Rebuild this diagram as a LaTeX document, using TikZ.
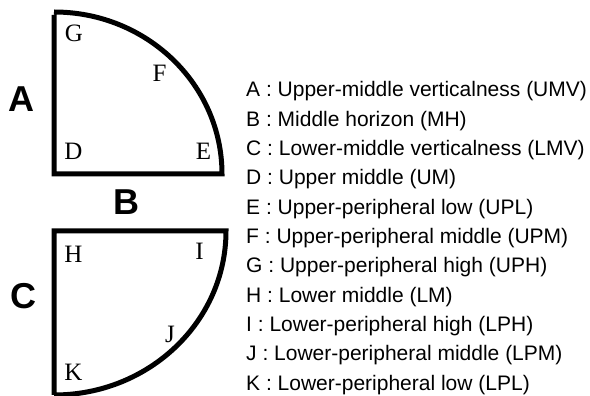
\documentclass[tikz,border=0pt]{standalone}
\usepackage{fontspec}
\setmainfont{Liberation Serif}
\newfontfamily\legendsans{Liberation Sans}
\begin{document}
\begin{tikzpicture}[x=1pt,y=1pt,
  outline/.style={line width=5pt, line join=miter},
  pt/.style={inner sep=0pt, anchor=base, font=\fontsize{25}{25}\selectfont},
  region/.style={inner sep=0pt, anchor=center, font=\legendsans\bfseries\fontsize{36}{36}\selectfont},
  legend/.style={inner sep=0pt, anchor=base west, font=\legendsans\fontsize{21}{24}\selectfont}]
\useasboundingbox (0,0) rectangle (590,396);
% top quadrant (upper)
\draw[outline] (54,381) -- (54,222) -- (222,222)
  arc[start angle=0, end angle=90, x radius=168, y radius=162];
% bottom quadrant (lower)
\draw[outline] (54,1) -- (54,165) -- (226,165)
  arc[start angle=0, end angle=-90, x radius=172, y radius=164];
% point labels
\node[pt] (G) at (74,354) {G};
\node[pt] (F) at (159.5,314) {F};
\node[pt] (D) at (73.5,236) {D};
\node[pt] (E) at (203.5,236) {E};
\node[pt] (H) at (73.5,133) {H};
\node[pt] (I) at (199.5,136) {I};
\node[pt] (J) at (170,53) {J};
\node[pt] (K) at (73.5,15) {K};
% region labels
\node[region] (A) at (21.5,297) {A};
\node[region] (B) at (126.5,193.5) {B};
\node[region] (C) at (23.5,99.5) {C};
% legend
\node[legend] (lA) at (246,299.3) {A : Upper-middle verticalness (UMV)};
\node[legend] (lB) at (246,269.9) {B : Middle horizon (MH)};
\node[legend] (lC) at (246,240.6) {C : Lower-middle verticalness (LMV)};
\node[legend] (lD) at (246,211.2) {D : Upper middle (UM)};
\node[legend] (lE) at (246,181.9) {E : Upper-peripheral low (UPL)};
\node[legend] (lF) at (246,152.5) {F : Upper-peripheral middle (UPM)};
\node[legend] (lG) at (246,123.1) {G : Upper-peripheral high (UPH)};
\node[legend] (lH) at (246,93.8) {H : Lower middle (LM)};
\node[legend] (lI) at (246,64.4) {I : Lower-peripheral high (LPH)};
\node[legend] (lJ) at (246,35.1) {J : Lower-peripheral middle (LPM)};
\node[legend] (lK) at (246,5.7) {K : Lower-peripheral low (LPL)};
\end{tikzpicture}
\end{document}
